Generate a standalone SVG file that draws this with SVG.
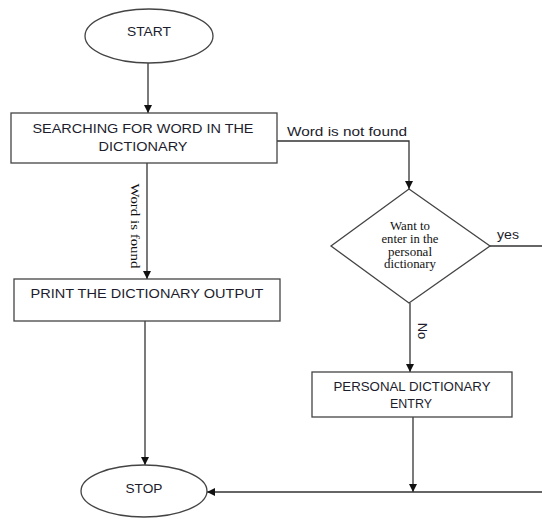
<svg xmlns="http://www.w3.org/2000/svg" width="542" height="519" viewBox="0 0 542 519">
<defs>
<style>
.shape{fill:#fff;stroke:#444;stroke-width:1.3}
.ln{fill:none;stroke:#333;stroke-width:1.3}
.t{font-family:"Liberation Sans",Arial,sans-serif;font-size:13px;fill:#1c1c2c;text-anchor:middle}
.s{font-family:"Liberation Serif","Times New Roman",serif;fill:#111;text-anchor:middle}
</style>
<marker id="ah" viewBox="0 0 10 10" refX="10" refY="5" markerWidth="8" markerHeight="8" markerUnits="userSpaceOnUse" orient="auto">
<path d="M0,0 L10,5 L0,10 z" fill="#111"/>
</marker>
</defs>
<g id="connectors">
<line class="ln" x1="148" y1="63" x2="148" y2="113" marker-end="url(#ah)"/>
<line class="ln" x1="147" y1="163" x2="147" y2="279" marker-end="url(#ah)"/>
<polyline class="ln" points="277,141 409,141 409,189" marker-end="url(#ah)"/>
<line class="ln" x1="490" y1="246" x2="542" y2="246"/>
<line class="ln" x1="410" y1="303" x2="410" y2="372" marker-end="url(#ah)"/>
<line class="ln" x1="145" y1="321" x2="145" y2="465" marker-end="url(#ah)"/>
<line class="ln" x1="413" y1="417" x2="413" y2="492" marker-end="url(#ah)"/>
<line class="ln" x1="542" y1="492" x2="207" y2="492" marker-end="url(#ah)"/>
<text class="t" x="347" y="136" textLength="120" lengthAdjust="spacingAndGlyphs">Word is not found</text>
<text class="t" x="508" y="239" textLength="22" lengthAdjust="spacingAndGlyphs">yes</text>
<text class="s" font-size="13" transform="translate(131,226) rotate(90)" textLength="85" lengthAdjust="spacingAndGlyphs">Word is found</text>
<text class="t" transform="translate(418,331) rotate(90)">No</text>
</g>
<g id="start">
<ellipse class="shape" cx="149" cy="36" rx="64" ry="27"/>
<text class="t" x="149" y="36" textLength="44" lengthAdjust="spacingAndGlyphs">START</text>
</g>
<g id="search">
<rect class="shape" x="11" y="113" width="266" height="50"/>
<text class="t" x="143" y="133" textLength="221" lengthAdjust="spacingAndGlyphs">SEARCHING FOR WORD IN THE</text>
<text class="t" x="143" y="151" textLength="89" lengthAdjust="spacingAndGlyphs">DICTIONARY</text>
</g>
<g id="decision">
<polygon class="shape" points="409,189 490,246 409,303 331,246"/>
<text class="s" font-size="11.5" x="410" y="230" textLength="40" lengthAdjust="spacingAndGlyphs">Want to</text>
<text class="s" font-size="11.5" x="410" y="243" textLength="57" lengthAdjust="spacingAndGlyphs">enter in the</text>
<text class="s" font-size="11.5" x="410" y="256" textLength="44" lengthAdjust="spacingAndGlyphs">personal</text>
<text class="s" font-size="11.5" x="410" y="268" textLength="52" lengthAdjust="spacingAndGlyphs">dictionary</text>
</g>
<g id="print">
<rect class="shape" x="14" y="279" width="266" height="42"/>
<text class="t" x="147" y="298" textLength="233" lengthAdjust="spacingAndGlyphs">PRINT THE DICTIONARY OUTPUT</text>
</g>
<g id="personal">
<rect class="shape" x="312" y="372" width="200" height="45"/>
<text class="t" x="412" y="391" textLength="157" lengthAdjust="spacingAndGlyphs">PERSONAL DICTIONARY</text>
<text class="t" x="411" y="408" textLength="42" lengthAdjust="spacingAndGlyphs">ENTRY</text>
</g>
<g id="stop">
<ellipse class="shape" cx="144" cy="491" rx="63" ry="26"/>
<text class="t" x="144" y="493" textLength="37" lengthAdjust="spacingAndGlyphs">STOP</text>
</g>
</svg>
